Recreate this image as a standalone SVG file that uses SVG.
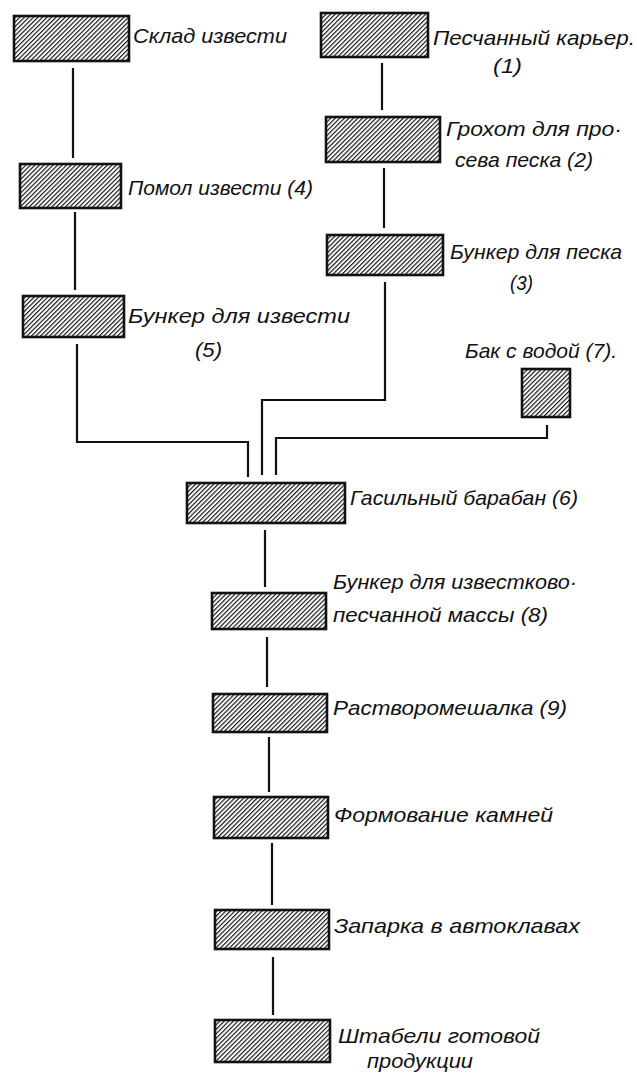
<svg xmlns="http://www.w3.org/2000/svg" width="637" height="1078" viewBox="0 0 637 1078">
<defs>
<pattern id="hatch" patternUnits="userSpaceOnUse" width="3.2" height="3.2" patternTransform="rotate(45)">
<rect width="3.2" height="3.2" fill="#fff"/>
<line x1="0.6" y1="0" x2="0.6" y2="3.2" stroke="#1a1a1a" stroke-width="1.2"/>
</pattern>
</defs>
<style>
.box{fill:url(#hatch);stroke:#111;stroke-width:2.6}
.lbl{font-family:"Liberation Sans","DejaVu Sans",sans-serif;font-style:italic;font-size:21px;fill:#111}
.con{fill:none;stroke:#111;stroke-width:2.2;stroke-linejoin:miter}
</style>
<rect width="637" height="1078" fill="#fff"/>
<g id="connectors">
<path class="con" d="M73 68 V158"/>
<path class="con" d="M75 212 V290"/>
<path class="con" d="M77 344 V442 H248 V477"/>
<path class="con" d="M382 63 V110"/>
<path class="con" d="M384 168 V228"/>
<path class="con" d="M385 282 V400 H262 V475"/>
<path class="con" d="M547 425 V438 H276 V475"/>
<path class="con" d="M265 530 V587"/>
<path class="con" d="M267 637 V687"/>
<path class="con" d="M269 737 V792"/>
<path class="con" d="M272 843 V905"/>
<path class="con" d="M273 957 V1015"/>
</g>
<g id="n-sklad"><rect class="box" x="14" y="16" width="115" height="45"/><text class="lbl" x="133" y="43" textLength="154" lengthAdjust="spacingAndGlyphs">Склад извести</text></g>
<g id="n-pomol"><rect class="box" x="20" y="164" width="101" height="44"/><text class="lbl" x="128" y="195" textLength="185" lengthAdjust="spacingAndGlyphs">Помол извести (4)</text></g>
<g id="n-bunker-izv"><rect class="box" x="23" y="296" width="101" height="41"/><text class="lbl" x="128" y="323" textLength="222" lengthAdjust="spacingAndGlyphs">Бункер для извести</text><text class="lbl" x="195" y="357" textLength="27" lengthAdjust="spacingAndGlyphs">(5)</text></g>
<g id="n-karier"><rect class="box" x="321" y="13" width="107" height="44"/><text class="lbl" x="433" y="45" textLength="202" lengthAdjust="spacingAndGlyphs">Песчанный карьер.</text><text class="lbl" x="493" y="73" textLength="29" lengthAdjust="spacingAndGlyphs">(1)</text></g>
<g id="n-grohot"><rect class="box" x="326" y="117" width="114" height="45"/><text class="lbl" x="446" y="136" textLength="176" lengthAdjust="spacingAndGlyphs">Грохот для про·</text><text class="lbl" x="455" y="167" textLength="138" lengthAdjust="spacingAndGlyphs">сева песка (2)</text></g>
<g id="n-bunker-pesok"><rect class="box" x="327" y="235" width="116" height="40"/><text class="lbl" x="450" y="259" textLength="172" lengthAdjust="spacingAndGlyphs">Бункер для песка</text><text class="lbl" x="510" y="290" textLength="23" lengthAdjust="spacingAndGlyphs">(3)</text></g>
<g id="n-bak"><rect class="box" x="522" y="369" width="48" height="48"/><text class="lbl" x="465" y="358" textLength="152" lengthAdjust="spacingAndGlyphs">Бак с водой (7).</text></g>
<g id="n-baraban"><rect class="box" x="187" y="483" width="158" height="40"/><text class="lbl" x="350" y="505" textLength="228" lengthAdjust="spacingAndGlyphs">Гасильный барабан (6)</text></g>
<g id="n-bunker-massa"><rect class="box" x="212" y="593" width="114" height="36"/><text class="lbl" x="333" y="589" textLength="244" lengthAdjust="spacingAndGlyphs">Бункер для известково·</text><text class="lbl" x="333" y="622" textLength="215" lengthAdjust="spacingAndGlyphs">песчанной массы (8)</text></g>
<g id="n-mesh"><rect class="box" x="213" y="694" width="114" height="38"/><text class="lbl" x="333" y="715" textLength="234" lengthAdjust="spacingAndGlyphs">Растворомешалка (9)</text></g>
<g id="n-form"><rect class="box" x="214" y="797" width="114" height="41"/><text class="lbl" x="334" y="822" textLength="219" lengthAdjust="spacingAndGlyphs">Формование камней</text></g>
<g id="n-zaparka"><rect class="box" x="215" y="910" width="114" height="39"/><text class="lbl" x="334" y="933" textLength="246" lengthAdjust="spacingAndGlyphs">Запарка в автоклавах</text></g>
<g id="n-shtabeli"><rect class="box" x="215" y="1020" width="115" height="42"/><text class="lbl" x="338" y="1043" textLength="202" lengthAdjust="spacingAndGlyphs">Штабели готовой</text><text class="lbl" x="367" y="1068" textLength="106" lengthAdjust="spacingAndGlyphs">продукции</text></g>
</svg>
